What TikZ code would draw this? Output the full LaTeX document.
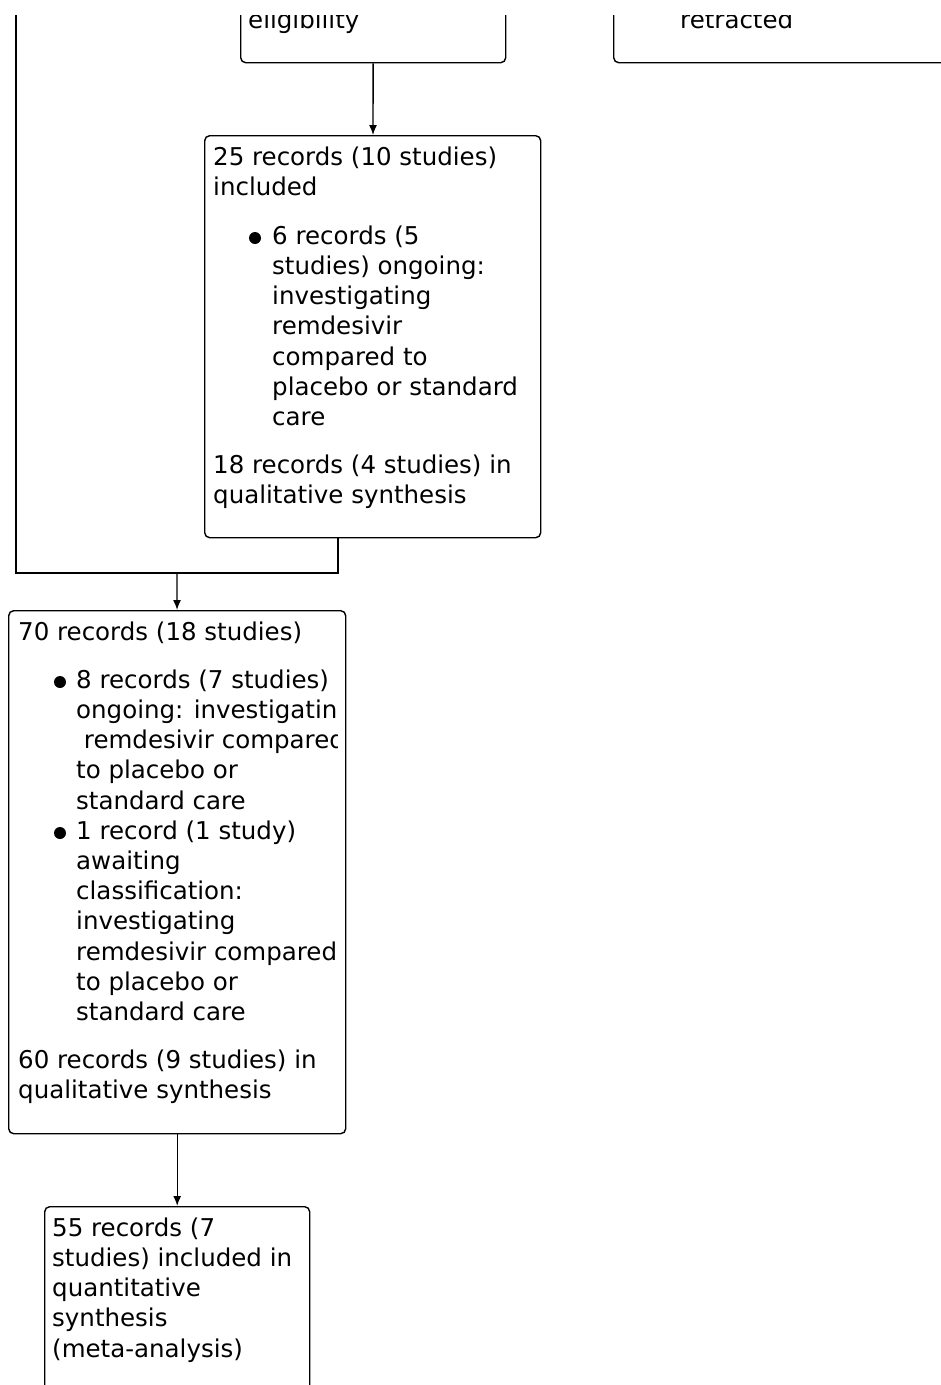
\documentclass[tikz,border=0pt]{standalone}
\usepackage{fontspec}
\setmainfont{DejaVu Sans}
\usetikzlibrary{arrows.meta}

\tikzset{
  box/.style={draw, rounded corners=5pt, line width=1.4pt, inner sep=0pt, anchor=north west},
  lbl/.style={anchor=north west, align=left, inner sep=0pt, font=\fontsize{24.5}{30.2}\selectfont},
  line/.style={line width=1.4pt},
  arr/.style={line width=1.4pt, -{Latex[length=10pt,width=8pt]}},
  dot/.style={fill=black}
}

\begin{document}
\begin{tikzpicture}[x=1pt,y=-1pt]
  \useasboundingbox (0,0) rectangle (941,1385);
  \begin{scope}
    \clip (0,15) rectangle (941,1385);

    % boxes
    \node[box, minimum width=265pt, minimum height=122pt] (elig) at (240,-60) {};
    \node[box, minimum width=400pt, minimum height=122pt] (retr) at (613,-60) {};
    \node[box, minimum width=336pt, minimum height=402pt] (incl) at (204,135) {};
    \node[box, minimum width=337pt, minimum height=523pt] (allrec) at (8,610) {};
    \node[box, minimum width=265pt, minimum height=260pt] (quant) at (44,1206) {};

    % texts
    \node[lbl] (eligtxt) at (248,9.4) {eligibility};
    \node[lbl] (retrtxt) at (680,9.4) {retracted};

    \node[lbl] (incltxt) at (213,146.4) {25 records (10 studies)\\included};
    \fill[dot] (255,238) circle (6pt);
    \node[lbl] (inclongo) at (272,225.4) {6 records (5\\studies) ongoing:\\investigating\\remdesivir\\compared to\\placebo or standard\\care};
    \node[lbl] (inclqual) at (213,454.4) {18 records (4 studies) in\\qualitative synthesis};

    \node[lbl] (alltxt) at (18,621.4) {70 records (18 studies)};
    \begin{scope}
      \clip (0,610) rectangle (337,1133);
      \fill[dot] (60,682) circle (6pt);
      \node[lbl] (allongo) at (76,669.4) {8 records (7 studies)\\ongoing: investigating\\\ remdesivir compared\\to placebo or\\standard care};
      \fill[dot] (60,833) circle (6pt);
      \node[lbl] (allawait) at (76,820.4) {1 record (1 study)\\awaiting\\classification:\\investigating\\remdesivir compared\\to placebo or\\standard care};
    \end{scope}
    \node[lbl] (allqual) at (18,1049.4) {60 records (9 studies) in\\qualitative synthesis};

    \node[lbl] (quanttxt) at (52,1217.4) {55 records (7\\studies) included in\\quantitative\\synthesis\\(meta-analysis)};

    % connectors
    \coordinate (toplft) at (16,-10);
    \coordinate (inclout) at (338,537);
    \coordinate (join) at (177,573);
    \draw[arr] (elig) -- (incl);
    \draw[line] (toplft) |- (inclout |- join) -- (inclout);
    \draw[arr] (join) -- (allrec);
    \draw[arr] (allrec) -- (quant);
  \end{scope}
\end{tikzpicture}
\end{document}
